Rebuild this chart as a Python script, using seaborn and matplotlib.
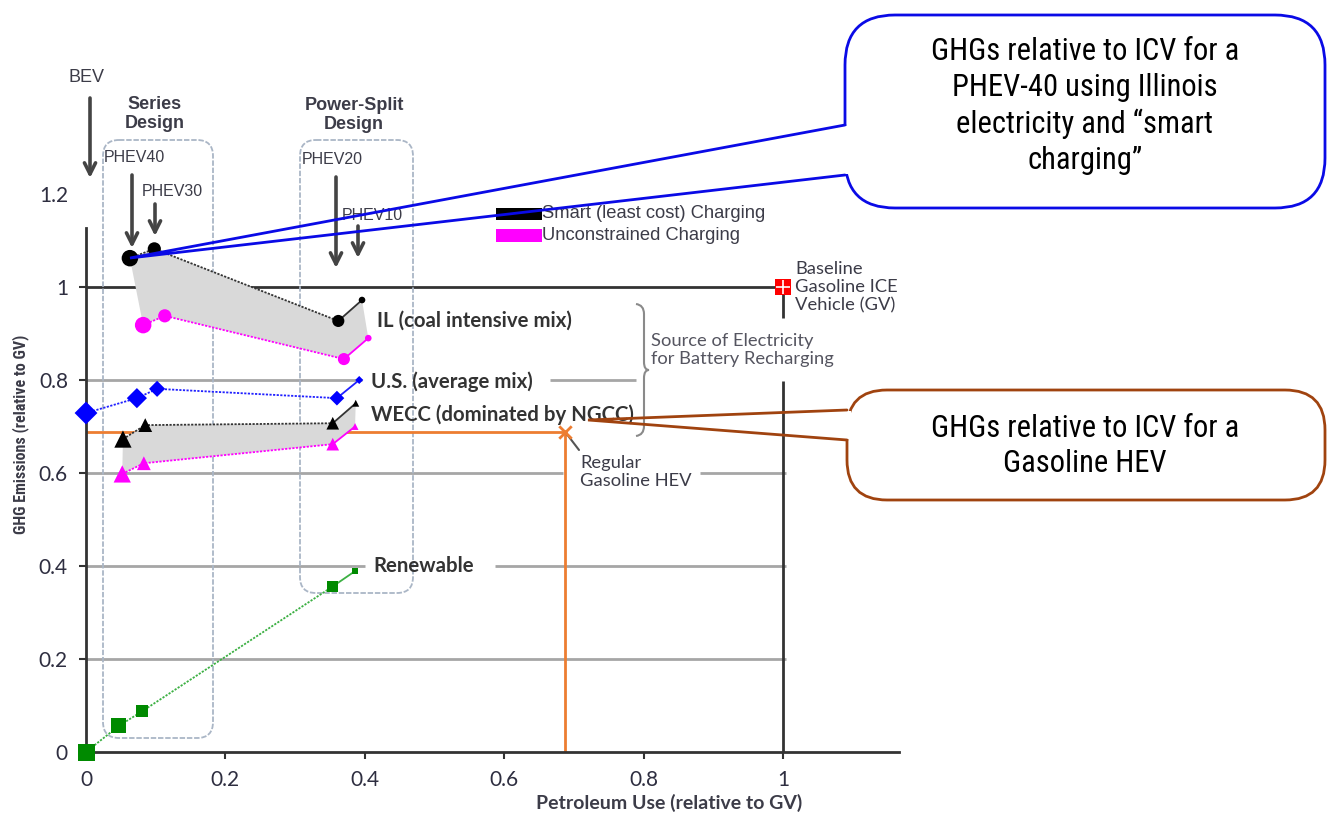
import numpy as np
import pandas as pd
import matplotlib
matplotlib.use("Agg")
import matplotlib.pyplot as plt
import seaborn as sns
from matplotlib import font_manager as fm
from matplotlib.patches import FancyBboxPatch, PathPatch, Rectangle
from matplotlib.path import Path
from matplotlib.transforms import Affine2D

# ---------------- data ----------------
vehicles = ["BEV", "PHEV40", "PHEV30", "PHEV20", "PHEV10"]

il_smart_x = [0.063, 0.098, 0.362, 0.396]
il_smart_y = [1.062, 1.082, 0.927, 0.972]
il_unc_x = [0.082, 0.113, 0.370, 0.405]
il_unc_y = [0.918, 0.938, 0.845, 0.890]

us_x = [0.0, 0.073, 0.102, 0.360, 0.392]
us_y = [0.729, 0.761, 0.781, 0.761, 0.800]

wecc_smart_x = [0.053, 0.085, 0.354, 0.387]
wecc_smart_y = [0.673, 0.703, 0.707, 0.750]
wecc_unc_x = [0.052, 0.083, 0.354, 0.386]
wecc_unc_y = [0.598, 0.621, 0.662, 0.700]

renew_x = [0.0, 0.047, 0.081, 0.353, 0.386]
renew_y = [0.0, 0.056, 0.088, 0.355, 0.389]

hev_x, hev_y = 0.687, 0.688
gv_x, gv_y = 1.0, 1.0

xticks = [0, 0.2, 0.4, 0.6, 0.8, 1.0]
xticklabels = ["0", "0.2", "0.4", "0.6", "0.8", "1"]
yticks = [0, 0.2, 0.4, 0.6, 0.8, 1.0, 1.2]
yticklabels = ["0", "0.2", "0.4", "0.6", "0.8", "1", "1.2"]

# ---------------- style ----------------
sns.set_theme(style="white")
CAL = ["Lato", "DejaVu Sans"]
ARI = ["Liberation Sans", "DejaVu Sans"]
plt.rcParams["font.family"] = CAL

# condensed fonts for callouts / y label
flist = fm.fontManager.ttflist


def find_font(weight_ok):
    pref = ["Liberation Sans Narrow", "DejaVu Sans Condensed", "Noto Sans Condensed",
            "Roboto Condensed", "Open Sans Condensed"]
    for p in pref:
        for f in flist:
            if f.name == p and f.style == "normal" and weight_ok(f.weight):
                return fm.FontProperties(fname=f.fname)
    for f in flist:
        if (f.stretch in ("condensed", "semi-condensed") or "Condensed" in f.fname or "Narrow" in f.fname) \
                and f.style == "normal" and weight_ok(f.weight) \
                and ("Sans" in f.name or "Roboto" in f.name):
            return fm.FontProperties(fname=f.fname)
    return None


narrow_fp = find_font(lambda w: w in (400, "normal", "regular"))
if narrow_fp is None:
    narrow_fp = fm.FontProperties(family="Liberation Sans")
narrow_bold = find_font(lambda w: w in (700, "bold"))
if narrow_bold is None:
    narrow_bold = fm.FontProperties(family="Lato", weight="bold")

W, H = 1332, 815
fig = plt.figure(figsize=(W / 100, H / 100), dpi=100)
ax = fig.add_axes([86 / W, 63 / H, 813 / W, 581 / H])
ax.set_xlim(0, 813 / 697)
ax.set_ylim(0, 581 / 465)
T = Affine2D().scale(1 / W, -1 / H).translate(0, 1) + fig.transFigure

AXC = "#333333"
for s in ["top", "right"]:
    ax.spines[s].set_visible(False)
for s in ["left", "bottom"]:
    ax.spines[s].set_color(AXC)
    ax.spines[s].set_linewidth(2)
ax.spines["left"].set_bounds(0, 1.127)
ax.set_xticks(xticks, xticklabels)
ax.set_yticks(yticks, yticklabels)
ax.tick_params(axis="both", direction="out", length=5, width=1.5, color=AXC,
               labelsize=15, labelcolor="#2e2e40", pad=8, left=True, bottom=True)
ax.yaxis.get_major_ticks()[-1].tick1line.set_visible(False)
ax.set_xlabel("")
ax.set_ylabel("")

# ---------------- reference lines ----------------
GC = "#a6a6a6"
ax.hlines(0.2, 0, 1.005, color=GC, lw=2, zorder=1)
ax.hlines(0.4, 0, 0.40, color=GC, lw=2, zorder=1)
ax.hlines(0.4, 0.587, 1.005, color=GC, lw=2, zorder=1)
ax.hlines(0.6, 0, 0.684, color=GC, lw=2, zorder=1)
ax.hlines(0.6, 0.881, 1.005, color=GC, lw=2, zorder=1)
ax.hlines(0.8, 0, 0.396, color=GC, lw=2, zorder=1)
ax.hlines(0.8, 0.666, 0.789, color=GC, lw=2, zorder=1)
ax.hlines(1.0, 0, 1.0, color=AXC, lw=2, zorder=1)
ax.vlines(1.0, 0, 0.798, color=AXC, lw=2, zorder=1)
ax.vlines(1.0, 0.933, 1.0, color=AXC, lw=2, zorder=1)

# HEV reference
ORG = "#ED7D31"
ax.hlines(hev_y, 0, hev_x, color=ORG, lw=2, zorder=2)
ax.vlines(hev_x, 0, hev_y, color=ORG, lw=2, zorder=2)
sns.scatterplot(x=[hev_x], y=[hev_y], marker="x", s=80, color=ORG, linewidth=2, ax=ax,
                legend=False, zorder=6)

# ---------------- shaded bands ----------------
ax.fill(np.r_[il_smart_x, il_unc_x[::-1]], np.r_[il_smart_y, il_unc_y[::-1]],
        color="#d9d9d9", lw=0, zorder=2)
ax.fill(np.r_[wecc_smart_x, wecc_unc_x[::-1]], np.r_[wecc_smart_y, wecc_unc_y[::-1]],
        color="#d9d9d9", lw=0, zorder=2)

size_px = {"BEV": 17, "PHEV40": 15, "PHEV30": 12, "PHEV20": 11, "PHEV10": 6}


def series(x, y, names, color, lcolor, marker, scale=1.0):
    df = pd.DataFrame({"x": x, "y": y, "veh": names})
    sns.lineplot(data=df.iloc[:-1], x="x", y="y", sort=False, estimator=None, color=lcolor,
                 lw=1.3, ls=(0, (1.2, 0.8)), ax=ax, zorder=3, clip_on=False)
    sns.lineplot(data=df.iloc[-2:], x="x", y="y", sort=False, estimator=None, color=lcolor,
                 lw=1.3, ax=ax, zorder=3, clip_on=False)
    s = [(size_px[v] * 0.72 * scale) ** 2 for v in names]
    sns.scatterplot(data=df, x="x", y="y", marker=marker, s=s, color=color, linewidth=0,
                    ax=ax, legend=False, zorder=5, clip_on=False)


series(il_smart_x, il_smart_y, vehicles[1:], "black", "#333333", "o", 1.1)
series(il_unc_x, il_unc_y, vehicles[1:], "#ff00ff", "#ff00ff", "o", 1.1)
series(us_x, us_y, vehicles, "#0000ff", "#2020ff", "D", 0.95)
series(wecc_smart_x, wecc_smart_y, vehicles[1:], "black", "#333333", "^", 1.15)
series(wecc_unc_x, wecc_unc_y, vehicles[1:], "#ff00ff", "#ff00ff", "^", 1.15)
series(renew_x, renew_y, vehicles, "#008a00", "#3cb043", "s", 1.0)

# baseline GV
sns.scatterplot(x=[gv_x], y=[gv_y], marker="s", s=130, color="#ff0000", linewidth=0, ax=ax,
                legend=False, zorder=6, clip_on=False)
sns.scatterplot(x=[gv_x], y=[gv_y], marker="+", s=90, color="white", linewidth=1.2, ax=ax,
                legend=False, zorder=7, clip_on=False)
ax.set_xlabel("")
ax.set_ylabel("")

# ---------------- annotations in pixel space ----------------
TXT = "#3c3c48"


def ptext(x, y, s, **kw):
    kw.setdefault("color", TXT)
    return ax.text(x, y, s, transform=T, clip_on=False, **kw)


def parrow(x, y0, y1):
    ax.annotate("", xy=(x, y1), xytext=(x, y0), xycoords=T, textcoords=T,
                arrowprops=dict(arrowstyle="->", lw=2.6, color="#444444",
                                mutation_scale=20, shrinkA=0, shrinkB=0),
                annotation_clip=False, zorder=4)


ptext(669, 803, "Petroleum Use (relative to GV)", ha="center", va="center",
      fontsize=14, fontweight="bold", family=CAL)
ptext(21, 434, "GHG Emissions (relative to GV)", ha="center", va="center", rotation=90,
      fontproperties=narrow_bold, fontsize=11.5)

ptext(86, 78, "BEV", ha="center", va="center", fontsize=13, family=ARI)
parrow(90, 98, 178)
ptext(155, 114, "Series\nDesign", ha="center", va="center", fontsize=13, fontweight="bold",
      family=ARI, linespacing=1.1)
ptext(354, 115, "Power-Split\nDesign", ha="center", va="center", fontsize=13,
      fontweight="bold", family=ARI, linespacing=1.1)
ptext(104, 158, "PHEV40", ha="left", va="center", fontsize=11.5, family=ARI)
parrow(132, 175, 248)
ptext(142, 191, "PHEV30", ha="left", va="center", fontsize=11.5, family=ARI)
parrow(155, 204, 236)
ptext(302, 159, "PHEV20", ha="left", va="center", fontsize=11.5, family=ARI)
parrow(336, 177, 268)
ptext(342, 216, "PHEV10", ha="left", va="center", fontsize=11.5, family=ARI)
parrow(358, 226, 258)

# design boxes
for (bx, by, bw, bh) in [(103, 140, 110, 598), (300, 140, 113, 453)]:
    ax.add_patch(FancyBboxPatch((bx, by), bw, bh, boxstyle="round,pad=0,rounding_size=16",
                                transform=T, fill=False, ec="#aab6c6", lw=1.3,
                                ls=(0, (3, 1)), clip_on=False, zorder=1.5))

# legend
ax.add_patch(Rectangle((496, 208), 46, 12, transform=T, fc="black", ec="none", clip_on=False, zorder=4))
ax.add_patch(Rectangle((496, 229), 46, 13, transform=T, fc="#ff00ff", ec="none", clip_on=False, zorder=4))
ptext(542, 213, "Smart (least cost) Charging", ha="left", va="center", fontsize=13.2, family=ARI)
ptext(542, 235, "Unconstrained Charging", ha="left", va="center", fontsize=13.2, family=ARI)

# series labels
LBL = dict(ha="left", va="center", fontsize=14.7, fontweight="bold", family=CAL, color="#333333")
ptext(377, 321, "IL (coal intensive mix)", **LBL)
ptext(371, 382, "U.S. (average mix)", **LBL)
ptext(371, 415, "WECC (dominated by NGCC)", **LBL)
ptext(373, 566, "Renewable", **LBL)

ptext(795, 287, "Baseline\nGasoline ICE\nVehicle (GV)", ha="left", va="center",
      fontsize=13.2, family=CAL, linespacing=1.15)
ptext(651, 350, "Source of Electricity\nfor Battery Recharging", ha="left", va="center",
      fontsize=13.2, family=CAL, color="#555560", linespacing=1.15)
ptext(580, 472, "Regular\nGasoline HEV", ha="left", va="center", fontsize=13.2,
      family=CAL, linespacing=1.15)
ax.plot([566, 579], [433, 450], transform=T, color="#555555", lw=1.5, clip_on=False, zorder=4)

# brace
bv = [(636, 304), (644, 305), (644, 314),
      (644, 362), (644, 370), (649, 370),
      (644, 370), (644, 378),
      (644, 426), (644, 435), (636, 436)]
bc = [Path.MOVETO, Path.CURVE3, Path.CURVE3,
      Path.LINETO, Path.CURVE3, Path.CURVE3,
      Path.CURVE3, Path.CURVE3,
      Path.LINETO, Path.CURVE3, Path.CURVE3]
ax.add_patch(PathPatch(Path(bv, bc), transform=T, fill=False, ec="#8a8a8a", lw=1.5,
                       clip_on=False, zorder=4))

# ---------------- callouts ----------------
BLUE = "#0a0ae6"
BROWN = "#a0430f"
ax.add_patch(FancyBboxPatch((845, 15), 480, 193, boxstyle="round,pad=0,rounding_size=50",
                            transform=T, fc="white", ec=BLUE, lw=2, clip_on=False, zorder=8))
ax.add_patch(Rectangle((841, 126), 8, 48, transform=T, fc="white", ec="none",
                       clip_on=False, zorder=8.5))
ax.plot([845, 130, 845], [125, 258, 175], transform=T, color=BLUE, lw=2, clip_on=False,
        zorder=9, solid_joinstyle="miter")
ptext(1085, 106, "GHGs relative to ICV for a\nPHEV-40 using Illinois\nelectricity and \u201csmart\ncharging\u201d",
      ha="center", va="center", fontproperties=narrow_fp, fontsize=22, color="black",
      linespacing=1.3, zorder=10)

ax.add_patch(FancyBboxPatch((847, 390), 478, 110, boxstyle="round,pad=0,rounding_size=40",
                            transform=T, fc="white", ec=BROWN, lw=2, clip_on=False, zorder=8))
ax.add_patch(Rectangle((843, 411), 8, 28, transform=T, fc="white", ec="none",
                       clip_on=False, zorder=8.5))
ax.plot([847, 588, 847], [410, 420, 440], transform=T, color=BROWN, lw=2, clip_on=False,
        zorder=9, solid_joinstyle="miter")
ptext(1085, 446, "GHGs relative to ICV for a\nGasoline HEV", ha="center", va="center",
      fontproperties=narrow_fp, fontsize=22, color="black", linespacing=1.3, zorder=10)

fig.savefig("out.png", dpi=100, facecolor="white")
